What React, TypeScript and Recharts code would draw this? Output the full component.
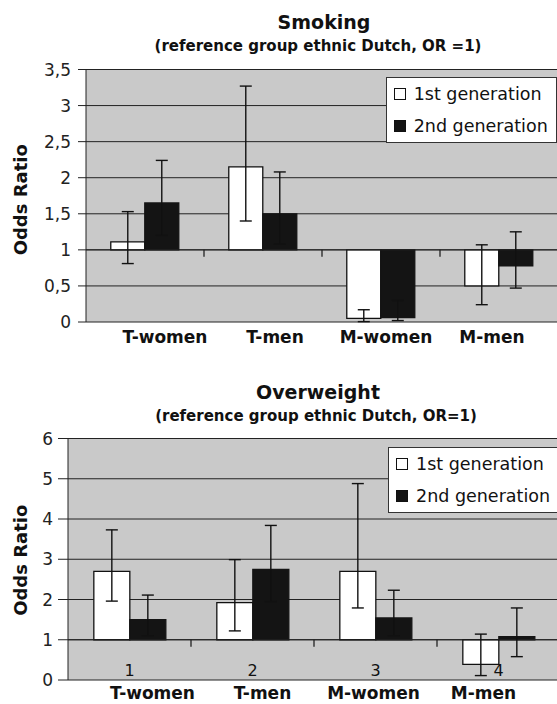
import { BarChart, Bar, XAxis, YAxis, CartesianGrid, ErrorBar, Legend, ReferenceLine } from 'recharts';

const CATEGORIES = ['T-women', 'T-men', 'M-women', 'M-men'];
const GEN1_NAME = '1st generation';
const GEN2_NAME = '2nd generation';
const REFERENCE_OR = 1;

// Smoking: odds ratio and 95% CI per group
const SMOKING_GEN1 = [1.11, 2.15, 0.05, 0.5];
const SMOKING_GEN1_LOW = [0.81, 1.4, 0.005, 0.24];
const SMOKING_GEN1_HIGH = [1.53, 3.27, 0.17, 1.07];
const SMOKING_GEN2 = [1.65, 1.5, 0.06, 0.78];
const SMOKING_GEN2_LOW = [1.2, 1.08, 0.02, 0.47];
const SMOKING_GEN2_HIGH = [2.24, 2.08, 0.3, 1.25];
const SMOKING_TICKS = [0, 0.5, 1, 1.5, 2, 2.5, 3, 3.5];

// Overweight
const OVERWEIGHT_GEN1 = [2.7, 1.92, 2.7, 0.39];
const OVERWEIGHT_GEN1_LOW = [1.96, 1.22, 1.79, 0.11];
const OVERWEIGHT_GEN1_HIGH = [3.73, 2.99, 4.88, 1.14];
const OVERWEIGHT_GEN2 = [1.5, 2.75, 1.54, 1.08];
const OVERWEIGHT_GEN2_LOW = [1.1, 1.95, 1.1, 0.58];
const OVERWEIGHT_GEN2_HIGH = [2.11, 3.84, 2.23, 1.79];
const OVERWEIGHT_TICKS = [0, 1, 2, 3, 4, 5, 6];
const OVERWEIGHT_GROUP_NUMBERS = ['1', '2', '3', '4'];

// label boxes in the original sit a bit off the category centres
const TOP_LABEL_NUDGE = [20, 12, 5, -7];
const BOTTOM_LABEL_NUDGE = [23, 10, -2, -15];

const PLOT_BG = '#c9c9c9';
const LINE = '#222';
const INK = '#111';
const DARK_BAR = '#141414';

function buildRows(g1: number[], g1lo: number[], g1hi: number[], g2: number[], g2lo: number[], g2hi: number[]) {
  return CATEGORIES.map((name, i) => ({
    name,
    gen1: [REFERENCE_OR, g1[i]],
    gen2: [REFERENCE_OR, g2[i]],
    err1: [g1[i] - g1lo[i], g1hi[i] - g1[i]],
    err2: [g2[i] - g2lo[i], g2hi[i] - g2[i]],
  }));
}

const smokingRows = buildRows(SMOKING_GEN1, SMOKING_GEN1_LOW, SMOKING_GEN1_HIGH, SMOKING_GEN2, SMOKING_GEN2_LOW, SMOKING_GEN2_HIGH);
const overweightRows = buildRows(
  OVERWEIGHT_GEN1, OVERWEIGHT_GEN1_LOW, OVERWEIGHT_GEN1_HIGH,
  OVERWEIGHT_GEN2, OVERWEIGHT_GEN2_LOW, OVERWEIGHT_GEN2_HIGH,
);

const commaNumber = (v: number) => String(v).replace('.', ',');

function GenLegend({ payload }: any) {
  return (
    <div style={{ background: '#fff', border: '1px solid #333', padding: '0 8px 0 7px' }}>
      {(payload || []).map((p: any, i: number) => (
        <div
          key={i}
          style={{ display: 'flex', alignItems: 'center', height: 32, fontSize: 17.5, color: INK, whiteSpace: 'nowrap' }}
        >
          <span
            style={{
              display: 'inline-block', width: 10, height: 10, border: `1px solid ${INK}`,
              background: p.color, marginRight: 8, flex: 'none',
            }}
          />
          {p.value}
        </div>
      ))}
    </div>
  );
}

// axis crossing at OR = 1: ticks between categories, optional group numbers
function axisAtOne(numbers?: string[]) {
  return (props: any) => {
    const { x1, y1, x2 } = props;
    const step = (x2 - x1) / CATEGORIES.length;
    return (
      <g>
        <line x1={x1} y1={y1} x2={x2} y2={y1} stroke={LINE} />
        {CATEGORIES.slice(1).map((_, i) => (
          <line key={i} x1={x1 + step * (i + 1)} x2={x1 + step * (i + 1)} y1={y1} y2={y1 + 7} stroke={LINE} strokeWidth={1.3} />
        ))}
        {numbers &&
          numbers.map((n, i) => (
            <text key={'n' + i} x={x1 + step * (i + 0.5)} y={y1 + 36.4} textAnchor="middle" fontSize={16} fill={INK}>
              {n}
            </text>
          ))}
      </g>
    );
  };
}

function categoryTick(nudges: number[], dy: number) {
  return (p: any) => (
    <text x={p.x + nudges[p.index]} y={p.y + dy} textAnchor="middle" fontWeight="bold" fontSize={17} fill={INK}>
      {p.payload.value}
    </text>
  );
}

function oddsLabel(cx: number, dyc: number) {
  return (p: any) => {
    const vb = p.viewBox;
    const cy = vb.y + vb.height / 2 + dyc;
    return (
      <text
        x={cx}
        y={cy}
        transform={`rotate(-90 ${cx} ${cy})`}
        textAnchor="middle"
        dominantBaseline="central"
        fontWeight="bold"
        fontSize={18}
        fill={INK}
      >
        Odds Ratio
      </text>
    );
  };
}

function OrChart(props: {
  rows: any[];
  width: number;
  height: number;
  marginTop: number;
  yWidth: number;
  xHeight: number;
  domainMax: number;
  ticks: number[];
  tickSize: number;
  tickMargin: number;
  nudges: number[];
  labelDy: number;
  oddsDy: number;
  legendPos: { left: number; top: number };
  numbers?: string[];
}) {
  const p = props;
  return (
    <BarChart
      width={p.width}
      height={p.height}
      data={p.rows}
      margin={{ top: p.marginTop, right: 12, bottom: 0, left: 0 }}
      barCategoryGap="21%"
      barGap={0}
    >
      <CartesianGrid vertical={false} stroke={LINE} fill={PLOT_BG} fillOpacity={1} />
      <XAxis
        dataKey="name"
        height={p.xHeight}
        axisLine={false}
        tickLine={false}
        tickSize={0}
        tickMargin={0}
        interval={0}
        tick={categoryTick(p.nudges, p.labelDy)}
      />
      <YAxis
        width={p.yWidth}
        domain={[0, p.domainMax]}
        ticks={p.ticks}
        interval={0}
        tickFormatter={commaNumber}
        tickSize={p.tickSize}
        tickMargin={p.tickMargin}
        axisLine={{ stroke: LINE }}
        tickLine={{ stroke: LINE }}
        tick={{ fontSize: 17, fill: LINE }}
        label={{ content: oddsLabel(20.7, p.oddsDy) }}
      />
      <ReferenceLine y={REFERENCE_OR} shape={axisAtOne(p.numbers)} />
      <Bar dataKey="gen1" name={GEN1_NAME} fill="#fff" stroke={INK} strokeWidth={1.3} isAnimationActive={false}>
        <ErrorBar dataKey="err1" width={6} stroke={INK} strokeWidth={1.4} direction="y" isAnimationActive={false} />
      </Bar>
      <Bar dataKey="gen2" name={GEN2_NAME} fill={DARK_BAR} stroke={DARK_BAR} strokeWidth={1.3} isAnimationActive={false}>
        <ErrorBar dataKey="err2" width={6} stroke={INK} strokeWidth={1.4} direction="y" isAnimationActive={false} />
      </Bar>
      <Legend
        layout="vertical"
        align="center"
        verticalAlign="middle"
        content={<GenLegend />}
        wrapperStyle={{ left: p.legendPos.left, top: p.legendPos.top, width: 'auto', height: 'auto' }}
      />
    </BarChart>
  );
}

export default function App() {
  return (
    <div
      style={{
        position: 'absolute', left: 0, top: 0, width: 557, height: 704, overflow: 'hidden',
        background: '#fff', fontFamily: '"DejaVu Sans", sans-serif', color: INK,
      }}
    >
      <svg width={557} height={704} style={{ position: 'absolute', left: 0, top: 0, pointerEvents: 'none', zIndex: 2 }}>
        <text x={324} y={28.5} textAnchor="middle" fontWeight="bold" fontSize={19} fill={INK}>Smoking</text>
        <text x={318} y={50.5} textAnchor="middle" fontWeight="bold" fontSize={15} fill={INK}>
          (reference group ethnic Dutch, OR =1)
        </text>
        <text x={318} y={398.5} textAnchor="middle" fontWeight="bold" fontSize={19} fill={INK}>Overweight</text>
        <text x={316} y={420.5} textAnchor="middle" fontWeight="bold" fontSize={15} fill={INK}>
          (reference group ethnic Dutch, OR=1)
        </text>
      </svg>
      <div style={{ position: 'absolute', left: 0, top: 0 }}>
        <OrChart
          rows={smokingRows}
          width={570}
          height={350}
          marginTop={69.5}
          yWidth={86}
          xHeight={28}
          domainMax={3.5}
          ticks={SMOKING_TICKS}
          tickSize={8}
          tickMargin={7}
          nudges={TOP_LABEL_NUDGE}
          labelDy={21.2}
          oddsDy={4}
          legendPos={{ left: 385.7, top: 77.3 }}
        />
      </div>
      <div style={{ position: 'absolute', left: 0, top: 350 }}>
        <OrChart
          rows={overweightRows}
          width={572}
          height={354}
          marginTop={88.5}
          yWidth={68}
          xHeight={24}
          domainMax={6}
          ticks={OVERWEIGHT_TICKS}
          tickSize={10}
          tickMargin={5}
          nudges={BOTTOM_LABEL_NUDGE}
          labelDy={19.3}
          oddsDy={1}
          legendPos={{ left: 388, top: 96.7 }}
          numbers={OVERWEIGHT_GROUP_NUMBERS}
        />
      </div>
    </div>
  );
}
